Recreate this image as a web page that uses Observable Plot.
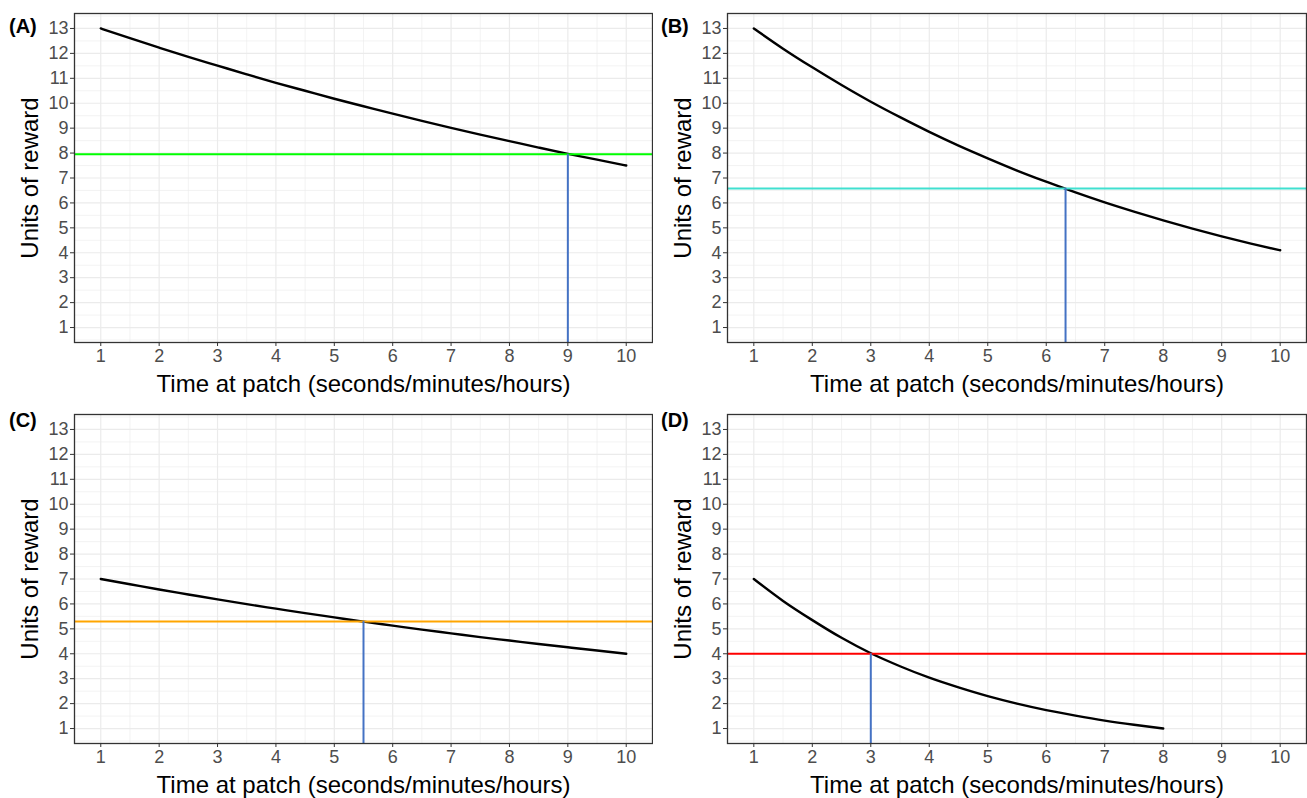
<!DOCTYPE html>
<html>
<head>
<meta charset="utf-8">
<script src="https://cdn.jsdelivr.net/npm/d3@7"></script>
<script src="https://cdn.jsdelivr.net/npm/@observablehq/plot@0.6"></script>
<style>
  html, body { margin: 0; padding: 0; background: #fff; }
  #fig { position: relative; width: 1307px; height: 798px; font-family: "Liberation Sans", Arial, sans-serif; }
  .panel { position: absolute; }
  .tag { position: absolute; font-weight: bold; font-size: 20px; line-height: 1; color: #000; }
</style>
</head>
<body>
<div id="fig"></div>
<script>
// ---- data ----
const timeFull = [1, 1.5, 2, 2.5, 3, 3.5, 4, 4.5, 5, 5.5, 6, 6.5, 7, 7.5, 8, 8.5, 9, 9.5, 10];
const timeShort = [1, 1.5, 2, 2.5, 3, 3.5, 4, 4.5, 5, 5.5, 6, 6.5, 7, 7.5, 8];
const rewardA = [13, 12.61, 12.23, 11.86, 11.51, 11.16, 10.82, 10.50, 10.18, 9.88, 9.58, 9.29, 9.01, 8.74, 8.48, 8.22, 7.97, 7.74, 7.50];
const rewardB = [13, 12.19, 11.44, 10.73, 10.06, 9.44, 8.85, 8.30, 7.79, 7.30, 6.85, 6.42, 6.02, 5.65, 5.30, 4.97, 4.66, 4.37, 4.10];
const rewardC = [7, 6.79, 6.58, 6.38, 6.18, 5.99, 5.81, 5.63, 5.46, 5.29, 5.13, 4.97, 4.82, 4.67, 4.53, 4.39, 4.26, 4.13, 4.00];
const rewardD = [7, 6.12, 5.35, 4.64, 4.02, 3.50, 3.04, 2.65, 2.30, 2.00, 1.74, 1.52, 1.32, 1.15, 1.00];
const panelTags = ["(A)", "(B)", "(C)", "(D)"];
const thresholds = [7.95, 6.58, 5.29, 4.0];
const leaveTimes = [9, 6.33, 5.5, 3];
const xTicks = [1, 2, 3, 4, 5, 6, 7, 8, 9, 10];
const yTicks = [1, 2, 3, 4, 5, 6, 7, 8, 9, 10, 11, 12, 13];
const xMinor = [1.5, 2.5, 3.5, 4.5, 5.5, 6.5, 7.5, 8.5, 9.5];
const yMinor = [0.5, 1.5, 2.5, 3.5, 4.5, 5.5, 6.5, 7.5, 8.5, 9.5, 10.5, 11.5, 12.5, 13.5];
const xTitle = "Time at patch (seconds/minutes/hours)";
const yTitle = "Units of reward";

// ---- styling / layout ----
const thresholdColors = ["#00FF00", "#40E0D0", "#FFA500", "#FF0000"];
const leaveColor = "#4472C4";
const curveSets = [
  [timeFull, rewardA],
  [timeFull, rewardB],
  [timeFull, rewardC],
  [timeShort, rewardD]
];
const layout = [
  {left: 0,   top: 0,   width: 653, height: 401, mt: 13, mb: 59, tagL: 9,   tagT: 16},
  {left: 653, top: 0,   width: 654, height: 401, mt: 13, mb: 59, tagL: 661, tagT: 16},
  {left: 0,   top: 401, width: 653, height: 397, mt: 13, mb: 55, tagL: 9,   tagT: 410},
  {left: 653, top: 401, width: 654, height: 397, mt: 13, mb: 55, tagL: 661, tagT: 410}
];

const fig = document.getElementById("fig");

panelTags.forEach((tag, i) => {
  const L = layout[i];
  const [times, rewards] = curveSets[i];
  const curve = times.map((t, j) => ({t, r: rewards[j]}));
  const chart = Plot.plot({
    width: L.width,
    height: L.height,
    marginLeft: 74,
    marginRight: 1,
    marginTop: L.mt,
    marginBottom: L.mb,
    style: {fontFamily: "'Liberation Sans', Arial, sans-serif", fontSize: "18px", background: "white", overflow: "visible"},
    x: {domain: [0.55, 10.45]},
    y: {domain: [0.4, 13.6]},
    marks: [
      Plot.ruleX(xMinor, {x: d => d, stroke: "#EBEBEB", strokeWidth: 0.6}),
      Plot.ruleY(yMinor, {y: d => d, stroke: "#EBEBEB", strokeWidth: 0.6}),
      Plot.ruleX(xTicks, {x: d => d, stroke: "#EBEBEB", strokeWidth: 1.2}),
      Plot.ruleY(yTicks, {y: d => d, stroke: "#EBEBEB", strokeWidth: 1.2}),
      Plot.line(curve, {x: "t", y: "r", stroke: "black", strokeWidth: 2.4, curve: "monotone-x"}),
      Plot.ruleY([thresholds[i]], {y: d => d, stroke: thresholdColors[i], strokeWidth: 2}),
      Plot.ruleX([leaveTimes[i]], {x: d => d, y1: 0.4, y2: thresholds[i], stroke: leaveColor, strokeWidth: 2}),
      Plot.frame({stroke: "#333333", strokeWidth: 1.3}),
      Plot.axisX(xTicks, {tickSize: 4, tickPadding: 3, stroke: "#333333", fill: "#4D4D4D", fontSize: 18, label: null}),
      Plot.axisY(yTicks, {tickSize: 4, tickPadding: 2, stroke: "#333333", fill: "#4D4D4D", fontSize: 18, label: null}),
      Plot.text([xTitle], {frameAnchor: "bottom", dy: 42, fontSize: 24, fill: "black", lineAnchor: "middle"}),
      Plot.text([yTitle], {frameAnchor: "left", dx: -44, rotate: -90, fontSize: 24, fill: "black", textAnchor: "middle", lineAnchor: "middle"})
    ]
  });
  const wrap = document.createElement("div");
  wrap.className = "panel";
  wrap.style.left = L.left + "px";
  wrap.style.top = L.top + "px";
  wrap.appendChild(chart);
  fig.appendChild(wrap);

  const t = document.createElement("div");
  t.className = "tag";
  t.style.left = L.tagL + "px";
  t.style.top = L.tagT + "px";
  t.textContent = tag;
  fig.appendChild(t);
});
</script>
</body>
</html>
